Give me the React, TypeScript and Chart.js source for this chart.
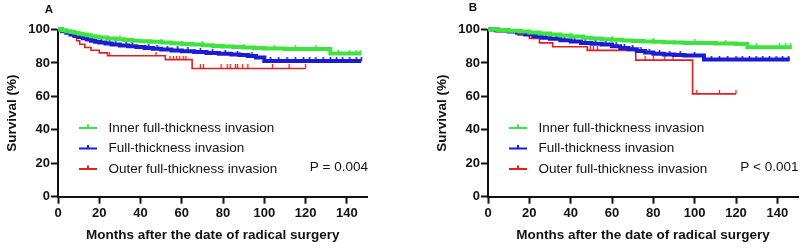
import React, { useEffect, useRef } from "react";
import { Chart, registerables } from "chart.js";

Chart.register(...registerables);

const FONT = "'Liberation Sans', Arial, Helvetica, sans-serif";

// ---------- shared labels ----------
const seriesNames = [
  "Inner full-thickness invasion",
  "Full-thickness invasion",
  "Outer full-thickness invasion",
];
const seriesColors = ["#3fe33f", "#1c1cd4", "#e02020"];
const xTickValues = [0, 20, 40, 60, 80, 100, 120, 140];
const yTickValues = [0, 20, 40, 60, 80, 100];
const xTitle = "Months after the date of radical surgery";
const yTitle = "Survival (%)";

// ---------- Panel A ----------
const greenATimes = [0, 2, 4, 6, 8, 10, 12, 14, 16, 18, 20, 24, 28, 32, 36, 40, 45, 50, 55, 60, 65, 70, 75, 80, 85, 90, 95, 100, 110, 120, 132];
const greenAValues = [100, 99.5, 99, 98.5, 98, 97.5, 97, 96.5, 96, 95.6, 95.2, 94.6, 94.1, 93.7, 93.3, 93, 92.6, 92.2, 91.8, 91.4, 91, 90.6, 90.2, 89.8, 89.5, 89.2, 88.9, 88.6, 88.4, 88.3, 85.6];
const greenAEnd = 147;
const greenACensor = [30, 50, 70, 90, 105, 115, 125, 136, 141.5, 144.5, 146.5];

const blueATimes = [0, 2, 4, 6, 8, 10, 12, 14, 16, 18, 20, 23, 26, 30, 34, 38, 42, 46, 50, 55, 60, 66, 72, 78, 84, 88, 92, 96, 100];
const blueAValues = [100, 99, 98, 97, 96.2, 95.5, 94.7, 94, 93.3, 92.7, 92.2, 91.6, 91, 90.5, 90, 89.6, 89, 88.5, 88, 87.5, 87, 86.5, 86, 85.5, 85, 84.7, 84.2, 83.2, 81.2];
const blueAEnd = 147;
const blueACensor = [17, 21, 25, 28, 33, 36, 44, 48, 53, 58, 63, 69, 75, 81, 87, 94, 103, 107, 111, 115, 119, 122, 125, 128.5, 132, 135, 138, 141.5, 144.5, 147];

const redATimes = [0, 1, 7.3, 9, 10.5, 13, 16, 20, 24, 52, 65];
const redAValues = [100, 98.8, 95.6, 93.3, 91.2, 89.2, 87.6, 86, 84.3, 82, 76.7];
const redAEnd = 120;
const redACensor = [25, 47.5, 54.3, 56, 57.5, 59, 60.7, 62, 69, 70.5, 79, 82, 83.5, 86, 87, 89.5, 92, 104, 112, 120];

// ---------- Panel B ----------
const greenBTimes = [0, 5, 10, 15, 20, 25, 30, 35, 40, 46, 50, 55, 60, 65, 70, 75, 80, 85, 90, 95, 100, 110, 120, 125.5];
const greenBValues = [100, 99.7, 99.3, 98.8, 98.2, 97.6, 97, 96.4, 95.8, 95, 94.6, 94.2, 93.8, 93.4, 93.1, 92.8, 92.6, 92.4, 92.2, 92, 91.9, 91.6, 91.4, 89.4];
const greenBEnd = 147;
const greenBCensor = [40, 60, 80, 100, 115, 130, 141, 144, 146.5];

const blueBTimes = [0, 5, 10, 14, 18, 22, 26, 30, 35, 40, 45, 50, 55, 60, 64, 68, 72, 76, 80, 85, 90, 95, 104.5];
const blueBValues = [100, 99.5, 98.8, 98, 97, 96, 95, 94.4, 93.6, 92.8, 92, 91.5, 91, 90, 89, 88.2, 87.2, 86.2, 85.5, 85, 84.7, 84.4, 82];
const blueBEnd = 146;
const blueBCensor = [16, 20, 24, 28, 33, 37, 42, 47, 52, 57, 62, 66, 70, 74, 78, 83, 88, 93, 100, 108, 112, 116, 120, 123, 126.5, 129.7, 133, 136.2, 139.4, 142.6, 145.5];

const redBTimes = [0, 3.2, 14.5, 20, 24.9, 31.3, 48, 71.5, 99];
const redBValues = [100, 98.7, 96.7, 94.7, 92, 89.7, 87.5, 81.7, 61.5];
const redBEnd = 120;
const redBCensor = [15, 49.5, 51, 53, 70, 76, 80, 85.5, 89.5, 101, 112, 120];

type Series = { times: number[]; values: number[]; end: number; censor: number[] };

const panelA: Series[] = [
  { times: greenATimes, values: greenAValues, end: greenAEnd, censor: greenACensor },
  { times: blueATimes, values: blueAValues, end: blueAEnd, censor: blueACensor },
  { times: redATimes, values: redAValues, end: redAEnd, censor: redACensor },
];
const panelB: Series[] = [
  { times: greenBTimes, values: greenBValues, end: greenBEnd, censor: greenBCensor },
  { times: blueBTimes, values: blueBValues, end: blueBEnd, censor: blueBCensor },
  { times: redBTimes, values: redBValues, end: redBEnd, censor: redBCensor },
];

function survivalAt(s: Series, t: number) {
  let v = s.values[0];
  for (let i = 0; i < s.times.length; i++) if (s.times[i] <= t) v = s.values[i];
  return v;
}

function makeTick(color: string, w: number, h: number, lw: number) {
  const c = document.createElement("canvas");
  c.width = w;
  c.height = h;
  const g = c.getContext("2d")!;
  g.strokeStyle = color;
  g.lineWidth = lw;
  g.beginPath();
  g.moveTo(w / 2, 0);
  g.lineTo(w / 2, h / 2);
  g.stroke();
  return c;
}

const lineWidths = [4, 4, 1.6];

const overlayPlugin = {
  id: "kmOverlay",
  afterDraw(chart: any, _args: any, opts: any) {
    const { ctx, chartArea } = chart;
    ctx.save();
    // legend
    seriesNames.forEach((name, i) => {
      const y = chartArea.top + 98.5 + i * 20.5;
      const x0 = chartArea.left + 21;
      ctx.strokeStyle = seriesColors[i];
      ctx.lineWidth = 2;
      ctx.beginPath();
      ctx.moveTo(x0, y);
      ctx.lineTo(x0 + 18, y);
      ctx.moveTo(x0 + 9, y);
      ctx.lineTo(x0 + 9, y - 3.5);
      ctx.stroke();
      ctx.fillStyle = "#111";
      ctx.font = `13.5px ${FONT}`;
      ctx.textAlign = "left";
      ctx.textBaseline = "middle";
      ctx.fillText(name, chartArea.left + 50.5, y);
    });
    // p-value
    ctx.fillStyle = "#111";
    ctx.font = `13.5px ${FONT}`;
    ctx.textAlign = "right";
    ctx.textBaseline = "middle";
    ctx.fillText(opts.pText, chartArea.right + 0.5, 167);
    // panel letter
    ctx.font = `bold 11.5px ${FONT}`;
    ctx.textAlign = "center";
    ctx.fillText(opts.letter, chartArea.left + opts.letterDx, opts.letterY);
    ctx.restore();
  },
};

function KMPanel(props: {
  series: Series[];
  width: number;
  padLeft: number;
  padRight: number;
  pText: string;
  letter: string;
  letterDx: number;
  letterY: number;
}) {
  const ref = useRef<HTMLCanvasElement>(null);
  useEffect(() => {
    const datasets: any[] = [];
    props.series.forEach((s, i) => {
      const pts = s.times.map((t, k) => ({ x: t, y: s.values[k] }));
      pts.push({ x: s.end, y: s.values[s.values.length - 1] });
      datasets.push({
        label: seriesNames[i],
        data: pts,
        stepped: "before",
        borderColor: seriesColors[i],
        backgroundColor: seriesColors[i],
        borderWidth: lineWidths[i],
        pointRadius: 0,
        fill: false,
        clip: false,
        order: i,
      });
    });
    props.series.forEach((s, i) => {
      const tick = i === 2 ? makeTick(seriesColors[i], 3, 8, 1.3) : makeTick(seriesColors[i], 3, 8, 1.6);
      datasets.push({
        label: seriesNames[i] + " censored",
        data: s.censor.map((t) => ({ x: t, y: survivalAt(s, t) })),
        showLine: false,
        pointStyle: tick,
        pointRadius: 3,
        pointHoverRadius: 3,
        borderColor: seriesColors[i],
        backgroundColor: seriesColors[i],
        clip: false,
        order: i,
      });
    });
    const tickFont = { family: FONT, size: 13, weight: "bold" as const };
    const titleFont = { family: FONT, size: 13.5, weight: "bold" as const };
    const chart = new Chart(ref.current!, {
      type: "line",
      data: { datasets },
      plugins: [overlayPlugin],
      options: {
        animation: false,
        responsive: false,
        maintainAspectRatio: false,
        events: [],
        layout: { padding: { left: props.padLeft, right: props.padRight, top: 29.5, bottom: 0 } },
        plugins: {
          legend: { display: false },
          tooltip: { enabled: false },
          kmOverlay: { pText: props.pText, letter: props.letter, letterDx: props.letterDx, letterY: props.letterY },
        } as any,
        scales: {
          x: {
            type: "linear",
            min: 0,
            max: 150,
            afterBuildTicks: (s: any) => {
              s.ticks = xTickValues.map((v) => ({ value: v }));
            },
            afterFit: (s: any) => {
              s.height = 52.3;
            },
            grid: { display: true, drawOnChartArea: false, drawTicks: true, tickLength: 7, tickWidth: 2, tickColor: "#111" },
            border: { display: true, color: "#111", width: 2 },
            ticks: { color: "#111", font: tickFont, padding: 2, maxRotation: 0, autoSkip: false },
            title: { display: true, text: xTitle, color: "#111", font: titleFont, padding: { top: 0, bottom: 6 } },
          },
          y: {
            type: "linear",
            min: 0,
            max: 100,
            afterBuildTicks: (s: any) => {
              s.ticks = yTickValues.map((v) => ({ value: v }));
            },
            afterFit: (s: any) => {
              s.width = 58;
            },
            grid: { display: true, drawOnChartArea: false, drawTicks: true, tickLength: 7, tickWidth: 2, tickColor: "#111" },
            border: { display: true, color: "#111", width: 2 },
            ticks: { color: "#111", font: tickFont, padding: 1 },
            title: { display: true, text: yTitle, color: "#111", font: titleFont, padding: { top: 4.4, bottom: 0 } },
          },
        },
      } as any,
    });
    return () => chart.destroy();
  }, []);
  return (
    <canvas
      ref={ref}
      width={props.width}
      height={249}
      style={{ width: props.width, height: 249, display: "block" }}
    />
  );
}

export default function App() {
  return (
    <div style={{ position: "fixed", left: 0, top: 0, width: 804, height: 249, background: "#fff" }}>
      <div style={{ position: "absolute", left: 0, top: 0 }}>
        <KMPanel series={panelA} width={400} padLeft={0} padRight={32.5} pText="P = 0.004" letter="A" letterDx={-9} letterY={9.5} />
      </div>
      <div style={{ position: "absolute", left: 400, top: 0 }}>
        <KMPanel series={panelB} width={404} padLeft={30} padRight={6} pText="P < 0.001" letter="B" letterDx={-15} letterY={7.5} />
      </div>
    </div>
  );
}
